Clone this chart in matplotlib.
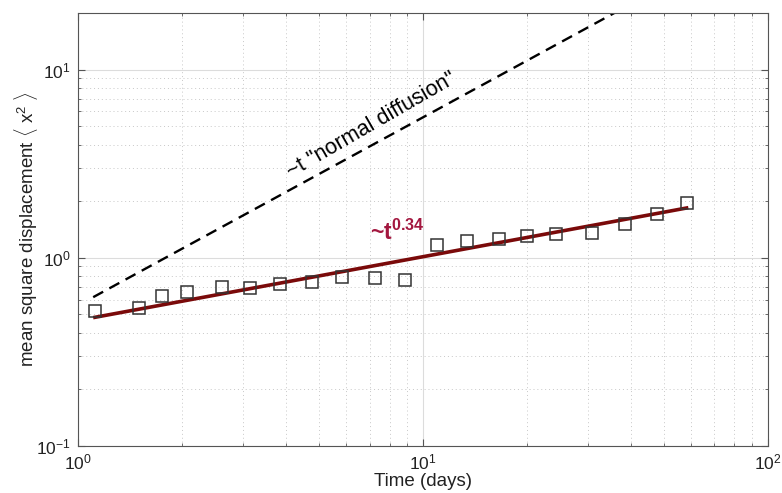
import matplotlib
matplotlib.use("Agg")
import matplotlib.pyplot as plt
from matplotlib.ticker import LogLocator, NullFormatter

plt.rcParams['font.family'] = ['Liberation Sans', 'DejaVu Sans']
plt.rcParams['mathtext.fontset'] = 'custom'
plt.rcParams['mathtext.rm'] = 'Liberation Sans'
plt.rcParams['mathtext.it'] = 'Liberation Sans'
plt.rcParams['mathtext.bf'] = 'Liberation Sans:bold'
plt.rcParams['axes.unicode_minus'] = False

# measured mean square displacement
time_days = [1.12, 1.50, 1.75, 2.07, 2.61, 3.15, 3.85, 4.78, 5.82, 7.26,
             8.87, 10.96, 13.39, 16.61, 20.06, 24.30, 30.9, 38.6, 47.6, 58.1]
msd = [0.524, 0.542, 0.626, 0.657, 0.704, 0.690, 0.730, 0.748, 0.789, 0.783,
       0.767, 1.166, 1.227, 1.262, 1.309, 1.342, 1.353, 1.516, 1.72, 1.954]

# power-law fit (~t^0.34), endpoints
fit_t = [1.12, 58.1]
fit_msd = [0.483, 1.84]

# normal diffusion reference (~t), endpoints
ref_t = [1.107, 58.1]
ref_msd = [0.618, 32.4]

fig = plt.figure(figsize=(7.82, 4.93), dpi=100)
ax = fig.add_axes([0.0997, 0.0953, 0.8823, 0.8783])

ax.plot(ref_t, ref_msd, '--', color='black', lw=1.7, dashes=(4.8, 3.0))
ax.plot(fit_t, fit_msd, '-', color='#7a0a0a', lw=2.6)
ax.plot(time_days, msd, 's', ms=8.5, mfc='none', mec='#333333', mew=1.1)

ax.set_xscale('log')
ax.set_yscale('log')
ax.set_xlim(1, 100)
ax.set_ylim(0.1, 20)

ax.xaxis.set_major_locator(LogLocator(base=10, numticks=10))
ax.yaxis.set_major_locator(LogLocator(base=10, numticks=10))
ax.xaxis.set_minor_locator(LogLocator(base=10, subs=range(2, 10), numticks=20))
ax.yaxis.set_minor_locator(LogLocator(base=10, subs=range(2, 10), numticks=20))
ax.xaxis.set_minor_formatter(NullFormatter())
ax.yaxis.set_minor_formatter(NullFormatter())

ax.grid(True, which='major', color='#dcdcdc', lw=0.8, ls='-')
ax.grid(True, which='minor', color='#c8c8c8', lw=0.7, ls=(0, (1, 3)))
ax.set_axisbelow(True)

for s in ax.spines.values():
    s.set_color('#555555')
    s.set_linewidth(0.8)
ax.tick_params(which='both', direction='in', top=True, right=True,
               color='#555555', labelsize=12.5, labelcolor='#222222')
ax.tick_params(which='major', length=5, width=0.8, pad=5)
ax.tick_params(which='minor', length=2.5, width=0.6)

ax.set_xlabel('Time (days)', fontsize=13.5, color='#222222', labelpad=0)
ax.set_ylabel(r'mean square displacement $\langle$ x$^2$ $\rangle$',
              fontsize=13.5, color='#222222', labelpad=-3)

ax.text(7.07, 5.1, '~t "normal diffusion"', rotation=30, fontsize=15.6,
        ha='center', va='center', color='black', rotation_mode='anchor')
ax.text(7.0, 1.25, r'~t$^{\mathbf{0.34}}$', fontsize=16.5, fontweight='bold',
        color='#a3173f', ha='left', va='baseline')

fig.savefig('out.png', dpi=100)
